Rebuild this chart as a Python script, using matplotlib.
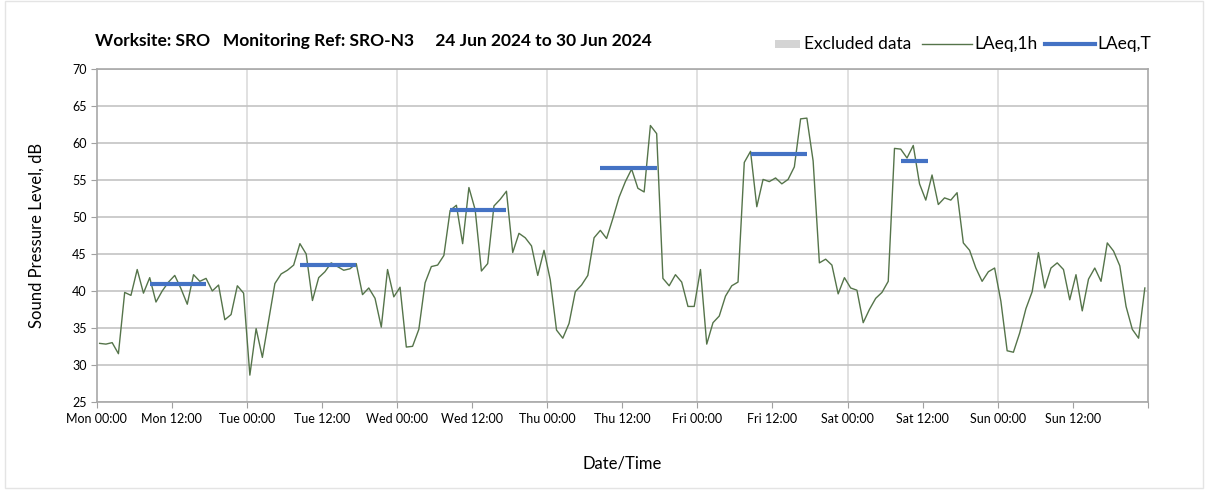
import matplotlib.pyplot as plt
from matplotlib.patches import Rectangle
from matplotlib.lines import Line2D

plt.rcParams['font.family'] = ['Lato', 'DejaVu Sans']

# hourly LAeq,1h values, Mon 00:00 to Sun 23:00
laeq_1h = [32.9, 32.8, 33.0, 31.5, 39.8, 39.4, 42.9, 39.7, 41.8, 38.5, 40.0, 41.2,
           42.1, 40.3, 38.2, 42.2, 41.3, 41.7, 40.0, 40.8, 36.1, 36.8, 40.7, 39.7,
           28.6, 34.9, 31.0, 36.0, 41.0, 42.3, 42.8, 43.5, 46.4, 45.0, 38.7, 41.8,
           42.6, 43.8, 43.3, 42.8, 43.0, 43.7, 39.5, 40.4, 39.0, 35.1, 42.9, 39.2,
           40.5, 32.4, 32.5, 34.8, 41.1, 43.3, 43.5, 44.8, 50.9, 51.6, 46.4, 54.0,
           51.0, 42.7, 43.7, 51.5, 52.4, 53.5, 45.2, 47.8, 47.2, 46.1, 42.1, 45.5,
           41.5, 34.7, 33.6, 35.6, 39.9, 40.8, 42.1, 47.2, 48.2, 47.1, 49.8, 52.7,
           54.8, 56.5, 53.9, 53.4, 62.4, 61.3, 41.7, 40.7, 42.2, 41.2, 37.9, 37.9,
           42.9, 32.8, 35.7, 36.6, 39.3, 40.7, 41.2, 57.4, 58.9, 51.4, 55.1, 54.8,
           55.3, 54.5, 55.1, 56.8, 63.3, 63.4, 57.6, 43.8, 44.3, 43.5, 39.6, 41.8,
           40.4, 40.1, 35.7, 37.5, 39.0, 39.8, 41.3, 59.3, 59.2, 58.0, 59.7, 54.5,
           52.3, 55.7, 51.7, 52.6, 52.3, 53.3, 46.5, 45.5, 43.1, 41.3, 42.6, 43.1,
           38.6, 31.9, 31.7, 34.3, 37.6, 39.9, 45.2, 40.4, 43.1, 43.8, 42.9, 38.8,
           42.2, 37.3, 41.6, 43.1, 41.3, 46.5, 45.4, 43.4, 37.9, 34.8, 33.6, 40.4]
hours = [h + 0.5 for h in range(len(laeq_1h))]

# LAeq,T over each working period (start hour, end hour, level)
period_start = [8.5, 32.5, 56.5, 80.5, 104.5, 128.5]
period_end = [17.5, 41.5, 65.5, 89.5, 113.5, 132.8]
laeq_t = [40.9, 43.5, 50.9, 56.7, 58.6, 57.6]

tick_hours = list(range(0, 169, 12))
days = ['Mon', 'Tue', 'Wed', 'Thu', 'Fri', 'Sat', 'Sun']
tick_labels = []
for d in days:
    tick_labels += [d + ' 00:00', d + ' 12:00']
tick_labels.append('')

green = '#55744a'
blue = '#4472c4'
W, H = 1208, 492

fig = plt.figure(figsize=(W / 100, H / 100), dpi=100)
fig.patches.append(Rectangle((0.004, 0.008), 0.992, 0.99, transform=fig.transFigure,
                             fill=False, edgecolor='#e4e4e4', linewidth=1))
ax = fig.add_axes([0.0799, 0.1835, 0.8704, 0.6755])

ax.plot(hours, laeq_1h, color=green, linewidth=1.0, zorder=3)
for s, e, v in zip(period_start, period_end, laeq_t):
    ax.plot([s, e], [v, v], color=blue, linewidth=3, solid_capstyle='butt', zorder=4)

ax.set_xlim(0, 168)
ax.set_ylim(25, 70)
ax.set_yticks(range(25, 71, 5))
ax.set_xticks(tick_hours)
ax.set_xticklabels(tick_labels, fontsize=9)
ax.tick_params(axis='y', labelsize=9, length=4, color='#a0a0a0', pad=3)
ax.tick_params(axis='x', length=4, color='#a0a0a0', pad=4)

ax.grid(axis='y', color='#c4c4c4', linewidth=1.2)
for d in range(24, 168, 24):
    ax.axvline(d, color='#dcdcdc', linewidth=1.2, zorder=0)
ax.set_axisbelow(True)
for sp in ax.spines.values():
    sp.set_color('#a8a8a8')
    sp.set_linewidth(1.2)

ax.set_ylabel('Sound Pressure Level, dB', fontsize=12, labelpad=20)
ax.set_xlabel('Date/Time', fontsize=12, labelpad=22)

fig.text(95 / W, 1 - 41 / H,
         'Worksite: SRO   Monitoring Ref: SRO-N3     24 Jun 2024 to 30 Jun 2024',
         fontsize=12.5, fontweight='bold', va='center', ha='left')

# legend drawn by hand along the top right
ly = 1 - 44 / H
fig.patches.append(Rectangle((775 / W, 1 - 48 / H), 25 / W, 8 / H,
                             transform=fig.transFigure, facecolor='#d4d4d4',
                             edgecolor='none'))
fig.text(804 / W, ly, 'Excluded data', fontsize=12.5, va='center', ha='left')
fig.lines.append(Line2D([922 / W, 972 / W], [ly, ly], transform=fig.transFigure,
                        color=green, linewidth=1.0))
fig.text(974 / W, ly, 'LAeq,1h', fontsize=12.5, va='center', ha='left')
fig.lines.append(Line2D([1045 / W, 1095 / W], [ly, ly], transform=fig.transFigure,
                        color=blue, linewidth=3))
fig.text(1097 / W, ly, 'LAeq,T', fontsize=12.5, va='center', ha='left')

plt.savefig('out.png', dpi=100)
